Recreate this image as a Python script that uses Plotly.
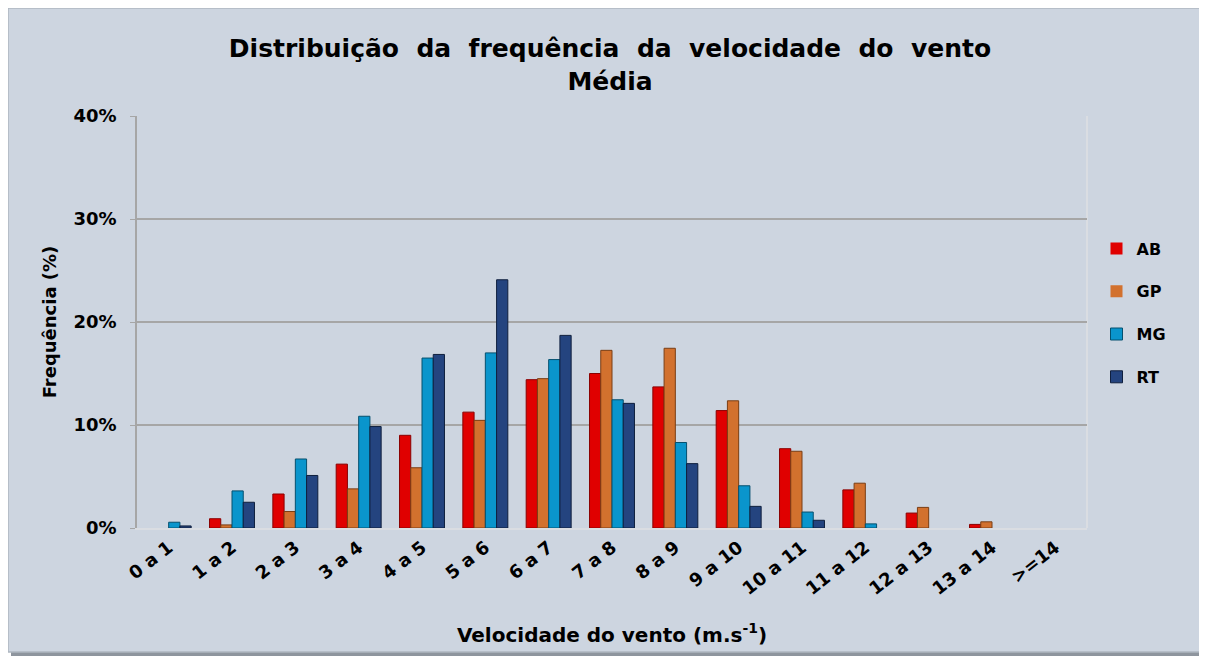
import plotly.graph_objects as go

categories = ["0 a 1", "1 a 2", "2 a 3", "3 a 4", "4 a 5", "5 a 6", "6 a 7", "7 a 8",
              "8 a 9", "9 a 10", "10 a 11", "11 a 12", "12 a 13", "13 a 14", ">=14"]
ab = [0.0, 0.9, 3.3, 6.2, 9.0, 11.25, 14.4, 15.0, 13.7, 11.4, 7.7, 3.7, 1.45, 0.35, 0.0]
gp = [0.0, 0.3, 1.6, 3.8, 5.85, 10.45, 14.5, 17.25, 17.45, 12.35, 7.45, 4.35, 2.0, 0.6, 0.0]
mg = [0.56, 3.6, 6.7, 10.85, 16.5, 17.0, 16.35, 12.45, 8.3, 4.1, 1.55, 0.4, 0.0, 0.0, 0.0]
rt = [0.2, 2.5, 5.1, 9.85, 16.85, 24.1, 18.7, 12.1, 6.25, 2.1, 0.75, 0.0, 0.0, 0.0, 0.0]

series = [("AB", ab, "#E00000", "#8A0000"),
          ("GP", gp, "#D2712E", "#7A3E14"),
          ("MG", mg, "#0A95CC", "#05506E"),
          ("RT", rt, "#24447F", "#0F1F3D")]

fig = go.Figure()
for name, vals, col, edge in series:
    fig.add_trace(go.Bar(x=categories, y=vals, name=f"<b>{name}</b>", legendgroup=name,
                         marker=dict(color=col,
                                     line=dict(color=edge,
                                               width=[1 if v > 0 else 0 for v in vals]))))

FF = "DejaVu Sans, Liberation Sans, Arial, sans-serif"
OFF = 8  # page body margin
W, H = 1207 - OFF, 657 - OFF
L, T = 137 - OFF, 116 - OFF
pw, ph = 950, 412
R = W - L - pw
B = H - T - ph

def px_x(x):  # window pixel -> paper x
    return (x - OFF - L) / pw

def px_y(y):  # window pixel -> paper y
    return (T + ph - (y - OFF)) / ph

# chart frame with shadow
fig.add_shape(type="rect", xref="paper", yref="paper", layer="below",
              x0=px_x(11), x1=px_x(1205), y0=px_y(656), y1=px_y(11),
              fillcolor="#8E959E", line=dict(width=0))
fig.add_shape(type="rect", xref="paper", yref="paper", layer="below",
              x0=px_x(8), x1=px_x(1201), y0=px_y(652), y1=px_y(8),
              fillcolor="#CDD5E0", line=dict(color="#AEB6C0", width=1.5))
# light right border of plot area
fig.add_shape(type="line", xref="paper", yref="paper", layer="below",
              x0=1, x1=1, y0=0, y1=1, line=dict(color="#DADDE2", width=2))

title_text = "<b>" + " &nbsp;".join("Distribuição da frequência da velocidade do vento".split()) + "<br>Média</b>"

fig.update_layout(
    width=W, height=H,
    margin=dict(l=L, r=R, t=T, b=B),
    paper_bgcolor="white",
    plot_bgcolor="#CDD5E0",
    barmode="group",
    bargap=0.29,
    bargroupgap=0.0,
    title=dict(text=title_text,
               x=(610 - OFF) / W, xanchor="center", xref="container",
               y=1 - (57 - OFF) / H, yanchor="middle", yref="container",
               font=dict(family=FF, size=25, color="black")),
    font=dict(family=FF, color="black"),
    legend=dict(x=1.01, xanchor="left", y=px_y(313), yanchor="middle",
                bgcolor="rgba(0,0,0,0)", tracegroupgap=19,
                font=dict(family=FF, size=16, color="black")),
    xaxis=dict(
        tickangle=-38,
        tickfont=dict(family=FF, size=18, color="black", weight="bold"),
        showline=True, linecolor="#DADDE2", linewidth=2,
        showgrid=False, ticks="",
        title=dict(text="<b>Velocidade do vento (m.s<sup>-1</sup>)</b>",
                   font=dict(family=FF, size=20, color="black"), standoff=30),
    ),
    yaxis=dict(
        range=[0, 40], dtick=10, ticksuffix="%",
        tickfont=dict(family=FF, size=18, color="black", weight="bold"),
        showline=True, linecolor="#A6A6A6", linewidth=1.5,
        ticks="outside", tickcolor="#A6A6A6", ticklen=5,
        ticklabelstandoff=10,
        showgrid=True, gridcolor="#A6A6A6", gridwidth=1.5,
        zeroline=False,
        title=dict(text="<b>Frequência (%)</b>",
                   font=dict(family=FF, size=18, color="black"), standoff=12),
    ),
)
fig.write_html("out.html")
